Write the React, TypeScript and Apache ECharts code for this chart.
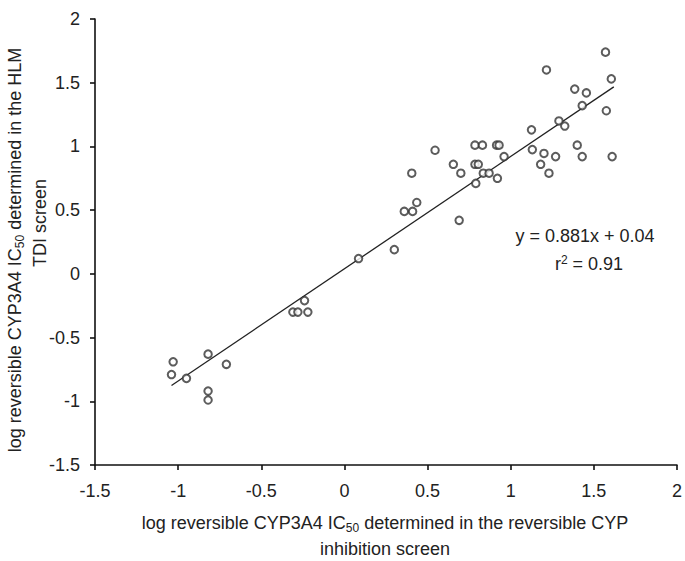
import React, { useEffect, useRef } from "react";
import * as echarts from "echarts";

const pointsX = [
  -1.03, -1.04, -0.95, -0.82, -0.71, -0.82, -0.82,
  -0.31, -0.28, -0.24, -0.22,
  0.085, 0.30, 0.36, 0.41, 0.435, 0.405, 0.545, 0.655, 0.70, 0.69,
  0.785, 0.83, 0.915, 0.93, 0.785, 0.805, 0.79, 0.835, 0.87, 0.92, 0.96,
  1.125, 1.13, 1.18, 1.20, 1.23, 1.27, 1.43, 1.61, 1.40, 1.29, 1.325,
  1.43, 1.575, 1.385, 1.455, 1.605, 1.57, 1.215,
];
const pointsY = [
  -0.69, -0.79, -0.82, -0.63, -0.71, -0.92, -0.99,
  -0.30, -0.30, -0.21, -0.30,
  0.12, 0.19, 0.49, 0.49, 0.56, 0.79, 0.97, 0.86, 0.79, 0.42,
  1.01, 1.01, 1.01, 1.01, 0.86, 0.86, 0.71, 0.79, 0.79, 0.75, 0.92,
  1.13, 0.975, 0.86, 0.945, 0.79, 0.92, 0.92, 0.92, 1.01, 1.20, 1.16,
  1.32, 1.28, 1.45, 1.42, 1.53, 1.74, 1.60,
];

const slope = 0.881;
const intercept = 0.04;
const fitRangeX = [-1.04, 1.62];
const axisMin = -1.5;
const axisMax = 2;
const axisInterval = 0.5;

const FONT = "'Liberation Sans', Arial, Helvetica, sans-serif";
const INK = "#222";
const FS = 18;

export default function App() {
  const ref = useRef<HTMLDivElement>(null);
  useEffect(() => {
    if (!ref.current) return;
    const chart = echarts.init(ref.current, null, { renderer: "svg" });
    const scatterData = pointsX.map((x, i) => [x, pointsY[i]]);
    const fitData = fitRangeX.map((x) => [x, slope * x + intercept]);
    const axisCommon = {
      type: "value" as const,
      min: axisMin,
      max: axisMax,
      interval: axisInterval,
      splitLine: { show: false },
      axisLine: { show: true, onZero: false, lineStyle: { color: "#111", width: 1.6 } },
      axisTick: { show: true, inside: false, length: 5, lineStyle: { color: "#111", width: 1.6 } },
      axisLabel: { color: INK, fontSize: FS, fontFamily: FONT, margin: 17 },
    };
    const subRich = {
      sub: { fontSize: 12, fontFamily: FONT, fill: INK, verticalAlign: "bottom", padding: [9, 0, 0, 0] },
    };
    chart.setOption({
      animation: false,
      backgroundColor: "#fff",
      grid: { left: 95, right: 8, top: 19, bottom: 96, containLabel: false },
      xAxis: { ...axisCommon },
      yAxis: { ...axisCommon, axisLabel: { ...axisCommon.axisLabel, margin: 15 } },
      series: [
        {
          type: "line",
          data: fitData,
          symbol: "none",
          lineStyle: { color: "#222", width: 1.3 },
          z: 1,
        },
        {
          type: "scatter",
          data: scatterData,
          symbol: "emptyCircle",
          symbolSize: 7.5,
          itemStyle: { color: "#333", borderColor: "#333", borderWidth: 1.3 },
          z: 2,
        },
      ],
      graphic: [
        {
          type: "text",
          x: 585,
          y: 236,
          style: {
            text: "y = 0.881x + 0.04",
            font: `${FS}px ${FONT}`,
            fill: INK,
            align: "center",
            verticalAlign: "middle",
          },
        },
        {
          type: "text",
          x: 589,
          y: 264,
          style: {
            text: "r{sup|2} = 0.91",
            font: `${FS}px ${FONT}`,
            fill: INK,
            align: "center",
            verticalAlign: "middle",
            rich: {
              sup: { fontSize: 12, fontFamily: FONT, fill: INK, verticalAlign: "top", padding: [0, 0, 9, 0] },
            },
          },
        },
        {
          type: "text",
          x: 385,
          y: 523,
          style: {
            text: "log reversible CYP3A4 IC{sub|50} determined in the reversible CYP",
            font: `${FS}px ${FONT}`,
            fill: INK,
            align: "center",
            verticalAlign: "middle",
            rich: subRich,
          },
        },
        {
          type: "text",
          x: 385,
          y: 549,
          style: {
            text: "inhibition screen",
            font: `${FS}px ${FONT}`,
            fill: INK,
            align: "center",
            verticalAlign: "middle",
          },
        },
        {
          type: "text",
          x: 15,
          y: 250,
          rotation: Math.PI / 2,
          style: {
            text: "log reversible CYP3A4 IC{sub|50} determined in the HLM",
            font: `${FS}px ${FONT}`,
            fill: INK,
            align: "center",
            verticalAlign: "middle",
            rich: subRich,
          },
        },
        {
          type: "text",
          x: 40,
          y: 223,
          rotation: Math.PI / 2,
          style: {
            text: "TDI screen",
            font: `${FS}px ${FONT}`,
            fill: INK,
            align: "center",
            verticalAlign: "middle",
          },
        },
      ],
    });
    return () => chart.dispose();
  }, []);
  return (
    <div
      ref={ref}
      style={{ position: "fixed", left: 0, top: 0, width: 685, height: 561, background: "#fff" }}
    />
  );
}
